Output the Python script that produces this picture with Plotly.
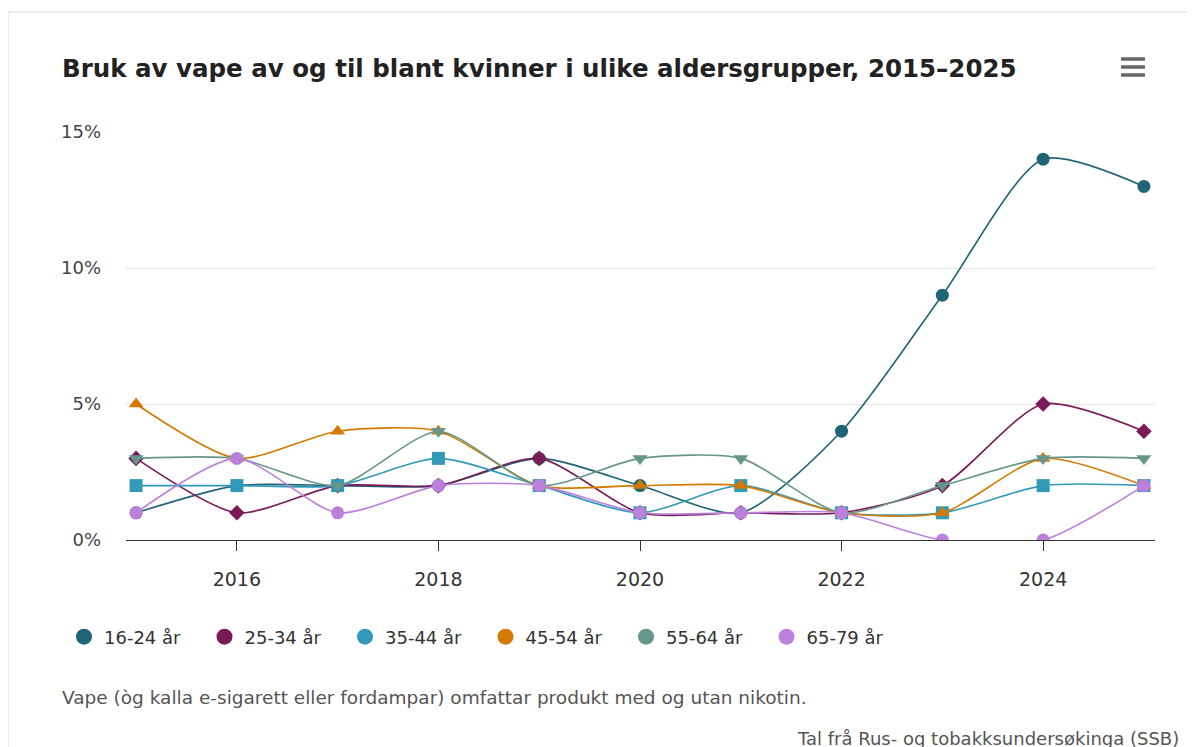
import plotly.graph_objects as go

years = [2015, 2016, 2017, 2018, 2019, 2020, 2021, 2022, 2023, 2024, 2025]
series_names = ["16-24 år", "25-34 år", "35-44 år", "45-54 år", "55-64 år", "65-79 år"]
v_16_24 = [1, 2, 2, 2, 3, 2, 1, 4, 9, 14, 13]
v_25_34 = [3, 1, 2, 2, 3, 1, 1, 1, 2, 5, 4]
v_35_44 = [2, 2, 2, 3, 2, 1, 2, 1, 1, 2, 2]
v_45_54 = [5, 3, 4, 4, 2, 2, 2, 1, 1, 3, 2]
v_55_64 = [3, 3, 2, 4, 2, 3, 3, 1, 2, 3, 3]
v_65_79 = [1, 3, 1, 2, 2, 1, 1, 1, 0, 0, 2]
series_values = [v_16_24, v_25_34, v_35_44, v_45_54, v_55_64, v_65_79]
colors = ["#1f6477", "#7a1a57", "#3399b8", "#d47a00", "#66968a", "#bb80dc"]
symbols = ["circle", "diamond", "square", "triangle-up", "triangle-down", "circle"]
marker_sizes = [13, 12, 13, 13, 13, 13]
x_ticks = [2016, 2018, 2020, 2022, 2024]
y_ticks = [0, 5, 10, 15]
y_tick_labels = ["0%", "5%", "10%", "15%"]

title = "Bruk av vape av og til blant kvinner i ulike aldersgrupper, 2015–2025"
caption = "Vape (òg kalla e-sigarett eller fordampar) omfattar produkt med og utan nikotin."
credit = "Tal frå Rus- og tobakksundersøkinga (SSB)"

W, H = 1195, 747
OFF = 8  # page body margin offset
# plot area in screen pixels
SL, SR, ST, SB = 126, 1155, 132, 540
L, R, T, B = SL - OFF, SR - OFF, ST - OFF, SB - OFF
FONT = "DejaVu Sans, Verdana, sans-serif"


def px_x(sx):
    return (sx - SL) / (SR - SL)


def px_y(sy):
    return (SB - sy) / (SB - ST)


fig = go.Figure()
for name, vals, col, sym, ms in zip(series_names, series_values, colors, symbols, marker_sizes):
    fig.add_trace(go.Scatter(
        x=years, y=vals, name=name, mode="lines+markers",
        line=dict(color=col, width=1.6, shape="spline", smoothing=0.7),
        marker=dict(symbol=sym, size=ms, color=col, line=dict(width=0)),
        legendgroup=name, showlegend=False,
        hovertemplate="%{x}: %{y}%<extra>" + name + "</extra>",
    ))
for name, col in zip(series_names, colors):
    fig.add_trace(go.Scatter(
        x=[None], y=[None], name=name, mode="markers",
        marker=dict(symbol="circle", size=16, color=col),
        legendgroup=name, showlegend=True,
    ))

shapes = [
    dict(type="rect", xref="paper", yref="paper",
         x0=px_x(8), x1=px_x(1215), y0=px_y(770), y1=px_y(12),
         line=dict(color="#d9d9d9", width=1), fillcolor="rgba(0,0,0,0)", layer="below"),
]
for yy in (59, 67, 75):
    shapes.append(dict(type="line", xref="paper", yref="paper",
                       x0=px_x(1121), x1=px_x(1145), y0=px_y(yy), y1=px_y(yy),
                       line=dict(color="#666666", width=3.5)))

fig.update_layout(
    width=W, height=H,
    margin=dict(l=L, r=W - R, t=T, b=H - B),
    paper_bgcolor="white", plot_bgcolor="white",
    font=dict(family=FONT, color="#333333"),
    title=dict(text="<b>" + title + "</b>", x=(62 - OFF) / W, xref="container", xanchor="left",
               y=1 - (68 - OFF) / H, yref="container", yanchor="middle",
               font=dict(family=FONT, size=24.5, color="#222222")),
    xaxis=dict(range=[2014.9, 2025.11], tickvals=x_ticks, ticktext=[str(t) for t in x_ticks],
               showgrid=False, zeroline=False, showline=True, linecolor="#333333", linewidth=1,
               ticks="outside", ticklen=10, tickcolor="#333333", tickwidth=1,
               tickfont=dict(size=19, color="#333333"), ticklabelstandoff=12),
    yaxis=dict(range=[0, 15], tickvals=y_ticks, ticktext=y_tick_labels,
               showgrid=True, gridcolor="#e6e6e6", gridwidth=1, zeroline=False, showline=False,
               tickfont=dict(size=18, color="#444444"), ticklabelstandoff=24),
    legend=dict(orientation="h", x=px_x(64), xanchor="left", y=px_y(637), yanchor="middle",
                font=dict(size=18, color="#333333"), entrywidth=95.5, entrywidthmode="pixels",
                itemclick="toggle", traceorder="normal"),
    shapes=shapes,
    annotations=[
        dict(text=caption, xref="paper", yref="paper", x=px_x(60), y=px_y(697),
             xanchor="left", yanchor="middle", showarrow=False,
             font=dict(family=FONT, size=18.5, color="#555555")),
        dict(text=credit, xref="paper", yref="paper", x=px_x(1181), y=px_y(738),
             xanchor="right", yanchor="middle", showarrow=False,
             font=dict(family=FONT, size=18, color="#555555")),
    ],
    showlegend=True,
)

fig.write_html("out.html")
